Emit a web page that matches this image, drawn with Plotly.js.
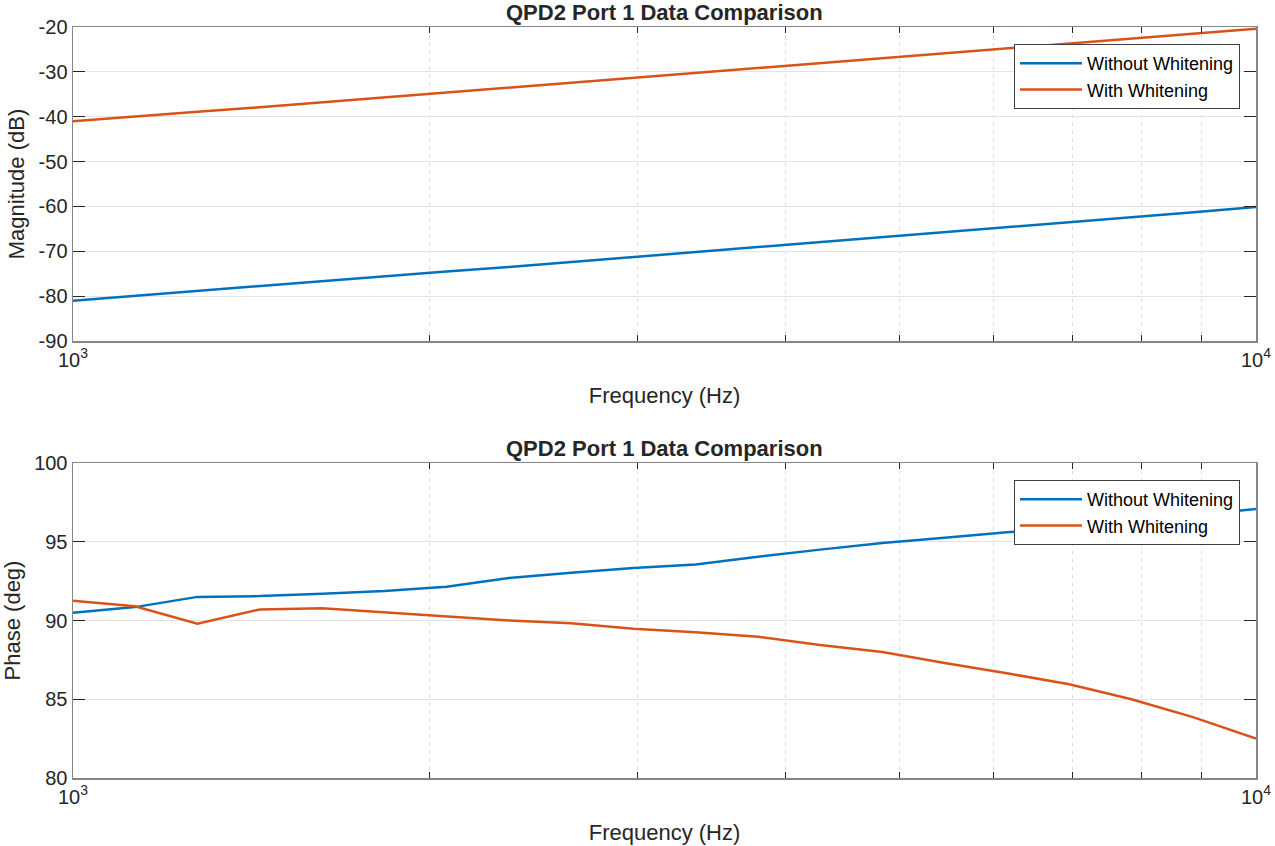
<!DOCTYPE html>
<html>
<head>
<meta charset="utf-8">
<script src="https://cdn.plot.ly/plotly-3.0.1.min.js"></script>
<style>html,body{margin:0;padding:0;background:#fff;}#chart{width:1275px;height:846px;}</style>
</head>
<body>
<div id="chart"></div>
<script>
// Frequencies (Hz), 20 log-spaced samples
var freq = [1000, 1128, 1274, 1438, 1624, 1833, 2069, 2336, 2637, 2976, 3360, 3793, 4281, 4833, 5456, 6158, 6952, 7848, 8859, 10000];

// Magnitude (dB)
var magWithout = [-81.0, -79.9, -78.8, -77.7, -76.6, -75.6, -74.5, -73.5, -72.4, -71.3, -70.2, -69.1, -68.0, -66.9, -65.8, -64.7, -63.6, -62.5, -61.3, -60.1];
var magWith = [-41.0, -39.9, -38.9, -37.9, -36.8, -35.7, -34.6, -33.6, -32.5, -31.4, -30.3, -29.2, -28.1, -27.0, -25.9, -24.8, -23.7, -22.6, -21.5, -20.4];

// Phase (deg)
var phaseWithout = [90.5, 90.85, 91.5, 91.55, 91.7, 91.88, 92.15, 92.7, 93.03, 93.33, 93.55, 94.05, 94.5, 94.92, 95.25, 95.6, 95.9, 96.3, 96.7, 97.08];
var phaseWith = [91.25, 90.9, 89.8, 90.7, 90.78, 90.52, 90.22, 90.0, 89.82, 89.47, 89.25, 88.97, 88.45, 88.0, 87.3, 86.65, 85.95, 85.0, 83.85, 82.5];

// Tick labels
var xTickVals = [1000, 2000, 3000, 4000, 5000, 6000, 7000, 8000, 9000, 10000];
var xTickText = ['10<sup>3</sup>', '', '', '', '', '', '', '', '', '10<sup>4</sup>'];
var magTicks = [-90, -80, -70, -60, -50, -40, -30, -20];
var magTickText = ['-90', '-80', '-70', '-60', '-50', '-40', '-30', '-20'];
var phaseTicks = [80, 85, 90, 95, 100];
var phaseTickText = ['80', '85', '90', '95', '100'];

var seriesNames = ['Without Whitening', 'With Whitening'];
var titleText = 'QPD2 Port 1 Data Comparison';

var blue = '#0072BD', orange = '#D95319';
var fontFam = '"Liberation Sans", Arial, Helvetica, sans-serif';
var txt = '#262626';

var traces = [
  {x: freq, y: magWithout, type: 'scatter', mode: 'lines', name: seriesNames[0], line: {color: blue, width: 2.5}, xaxis: 'x', yaxis: 'y', legend: 'legend'},
  {x: freq, y: magWith, type: 'scatter', mode: 'lines', name: seriesNames[1], line: {color: orange, width: 2.5}, xaxis: 'x', yaxis: 'y', legend: 'legend'},
  {x: freq, y: phaseWithout, type: 'scatter', mode: 'lines', name: seriesNames[0], line: {color: blue, width: 2.5}, xaxis: 'x2', yaxis: 'y2', legend: 'legend2'},
  {x: freq, y: phaseWith, type: 'scatter', mode: 'lines', name: seriesNames[1], line: {color: orange, width: 2.5}, xaxis: 'x2', yaxis: 'y2', legend: 'legend2'}
];

function xAxis(anchor) {
  return {
    type: 'log', range: [3, 4], anchor: anchor,
    tickvals: xTickVals, ticktext: xTickText,
    ticks: 'inside', ticklen: 6, tickwidth: 1, tickcolor: '#262626',
    showline: true, linecolor: '#868686', linewidth: 1.5, mirror: 'ticks',
    showgrid: true, gridcolor: '#d8d8d8', griddash: '3px,5px', gridwidth: 1,
    zeroline: false,
    tickfont: {family: fontFam, size: 20, color: txt},
    title: {text: 'Frequency (Hz)', font: {family: fontFam, size: 22, color: txt}, standoff: 18}
  };
}
function yAxis(anchor, domain, range, ticks, tickText, label) {
  return {
    anchor: anchor, domain: domain, range: range, tickvals: ticks, ticktext: tickText,
    ticks: 'inside', ticklen: 12, tickwidth: 1, tickcolor: '#262626',
    showline: true, linecolor: '#868686', linewidth: 1.5, mirror: 'ticks',
    showgrid: true, gridcolor: '#e3e3e3', gridwidth: 1,
    zeroline: false,
    tickfont: {family: fontFam, size: 20, color: txt},
    title: {text: label, font: {family: fontFam, size: 22, color: txt}, standoff: 8}
  };
}

var H = 846;
var legendCommon = {
  x: (1240 - 73) / 1183, xanchor: 'right', yanchor: 'top',
  bordercolor: '#404040', borderwidth: 1, bgcolor: '#ffffff',
  font: {family: fontFam, size: 18, color: '#000'}, tracegroupgap: 0, itemwidth: 62
};
var layout = {
  width: 1275, height: 846,
  margin: {l: 73, r: 19, t: 0, b: 0},
  paper_bgcolor: '#ffffff', plot_bgcolor: '#ffffff',
  showlegend: true,
  font: {family: fontFam, color: txt},
  xaxis: Object.assign(xAxis('y'), {domain: [0, 1]}),
  yaxis: yAxis('x', [1 - 341 / H, 1 - 27 / H], [-90, -20], magTicks, magTickText, 'Magnitude (dB)'),
  xaxis2: Object.assign(xAxis('y2'), {domain: [0, 1]}),
  yaxis2: yAxis('x2', [1 - 778 / H, 1 - 463 / H], [80, 100], phaseTicks, phaseTickText, 'Phase (deg)'),
  legend: Object.assign({y: 1 - 44 / H}, legendCommon),
  legend2: Object.assign({y: 1 - 480 / H}, legendCommon),
  annotations: [
    {text: '<b>' + titleText + '</b>', xref: 'paper', yref: 'paper', x: 0.5, y: 1 - 12 / H, xanchor: 'center', yanchor: 'middle', showarrow: false, font: {family: fontFam, size: 22, color: txt}},
    {text: '<b>' + titleText + '</b>', xref: 'paper', yref: 'paper', x: 0.5, y: 1 - 448 / H, xanchor: 'center', yanchor: 'middle', showarrow: false, font: {family: fontFam, size: 22, color: txt}}
  ]
};

Plotly.newPlot('chart', traces, layout, {displayModeBar: false, staticPlot: true});
</script>
</body>
</html>
